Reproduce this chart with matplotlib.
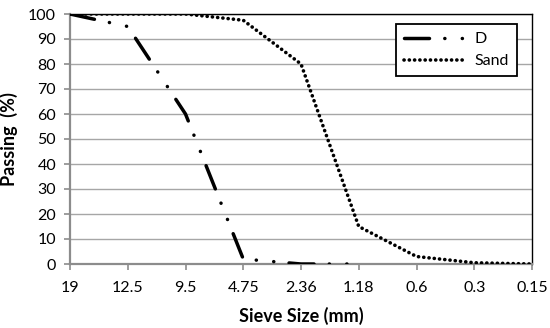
import matplotlib
matplotlib.use("Agg")
import matplotlib.pyplot as plt
import numpy as np

plt.rcParams['font.family'] = ['Lato', 'DejaVu Sans']
plt.rcParams['lines.scale_dashes'] = False

sieve_labels = ["19", "12.5", "9.5", "4.75", "2.36", "1.18", "0.6", "0.3", "0.15"]
d_passing = [100, 95, 60, 2, 0, 0]
sand_passing = [100, 100, 100, 97.5, 80, 15, 3, 0.5, 0]


def draw():
    fig = plt.figure(figsize=(5.5, 3.28), dpi=100)
    ax = fig.add_axes([70 / 550, 1 - 264 / 328, 462 / 550, 250 / 328])

    loc = np.arange(len(sieve_labels))

    ax.plot(loc[:len(d_passing)], d_passing, color='black', lw=2.5,
            linestyle=(0, (18, 11, 0.1, 12.5, 0.1, 11)),
            dash_capstyle='round', solid_capstyle='round', label='D', zorder=3)
    ax.plot(loc, sand_passing, color='black', lw=2.6,
            linestyle=(0, (0.1, 3.7)), dash_capstyle='round', label='Sand', zorder=3)

    ax.set_xlim(0, len(sieve_labels) - 1)
    ax.set_ylim(0, 100)
    ax.set_xticks(loc)
    ax.set_xticklabels(sieve_labels)
    ax.set_yticks(np.arange(0, 101, 10))

    ax.yaxis.grid(True, color='#a6a6a6', lw=1.0)
    ax.set_axisbelow(True)

    for side in ('top', 'right'):
        ax.spines[side].set_color('black')
        ax.spines[side].set_linewidth(1.0)
    for side in ('left', 'bottom'):
        ax.spines[side].set_color('#8c8c8c')
        ax.spines[side].set_linewidth(1.6)

    ax.tick_params(axis='both', direction='out', width=1.2,
                   length=4, labelsize=11.5, colors='black')
    ax.tick_params(axis='both', color='#8c8c8c')
    ax.tick_params(axis='y', pad=6)
    ax.tick_params(axis='x', pad=8)

    ax.set_xlabel('Sieve Size (mm)', fontsize=13, fontweight='bold', labelpad=9)
    ax.set_ylabel('Passing  (%)', fontsize=13, fontweight='bold', labelpad=7)

    leg = ax.legend(loc='upper right', bbox_to_anchor=(0.9675, 0.96), borderaxespad=0,
                    fancybox=False, edgecolor='black', fontsize=11.5, handlelength=3.7,
                    borderpad=0.5, labelspacing=0.5, handletextpad=0.7, framealpha=1)
    leg.get_frame().set_linewidth(1.3)

    fig.savefig("out.png", dpi=100)


if __name__ == '__main__':
    draw()
